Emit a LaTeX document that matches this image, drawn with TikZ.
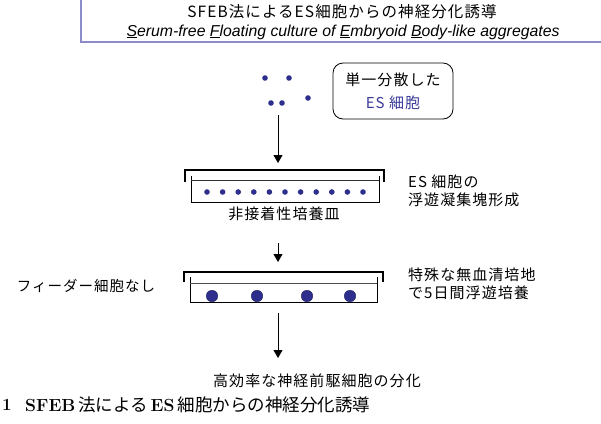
\documentclass[tikz,border=0pt]{standalone}
\usepackage{fontspec}
\newfontfamily\jp[LetterSpace=7]{Noto Sans CJK JP}
\newfontfamily\jpcap{Noto Sans CJK JP}
\newfontfamily\lsans{Liberation Sans}
\usetikzlibrary{arrows.meta}
\definecolor{titleblue}{HTML}{8C8CC8}
\definecolor{celldot}{HTML}{2E2E8C}
\definecolor{esblue}{HTML}{3A3A9A}
\tikzset{
  jptext/.style={inner sep=0pt, font=\jp\fontsize{15}{17}\selectfont, text=black},
  flowarrow/.style={line width=0.8pt, -{Triangle[width=9pt,length=8pt]}},
  dishline/.style={line width=0.9pt, black},
  lidline/.style={line width=1.1pt, black},
  smalldot/.style={circle, fill=celldot, inner sep=0pt, minimum size=5.6pt},
  bigdot/.style={circle, fill=celldot, draw=celldot!70!black, inner sep=0pt, minimum size=11.5pt},
}
\begin{document}
\begin{tikzpicture}[x=1pt,y=-1pt]
\clip (0,0) rectangle (601,423);
\fill[white] (0,0) rectangle (601,423);
% title box
\draw[titleblue, line width=1.4pt] (81,-5) -- (81,42) -- (610,42);
\node[jptext, font=\jp\fontsize{15.5}{17}\selectfont] (title1) at (342,12) {SFEB法によるES細胞からの神経分化誘導};
\node[inner sep=0pt, font=\lsans\itshape\fontsize{15.8}{18}\selectfont] (title2) at (343,32)
  {\underline{S}erum-free \underline{F}loating culture of \underline{E}mbryoid \underline{B}ody-like aggregates};
% single cells
\node[smalldot] (d1) at (265,78) {};
\node[smalldot] (d2) at (289,78) {};
\node[smalldot] (d3) at (271,103) {};
\node[smalldot] (d4) at (282,103) {};
\node[smalldot] (d5) at (308,98) {};
\node[draw, line width=0.8pt, rounded corners=10pt, minimum width=120pt, minimum height=56pt, inner sep=0pt,
      align=center, font=\jp\fontsize{15}{23}\selectfont] (cellbox) at (393,91)
  {単一分散した\\\textcolor{esblue}{ES 細胞}};
% arrow 1
\coordinate (a1s) at (278,115);
\coordinate (a1e) at (278,163);
\draw[flowarrow] (a1s) -- (a1e);
% dish 1
\draw[lidline] (185,182) -- (185,170) -- (384,170) -- (384,182);
\draw[dishline] (191,176) -- (191,202) -- (379,202) -- (379,176);
\draw[line width=0.6pt, black!80] (191,180) -- (379,180);
\foreach \i in {0,...,10} {
  \node[smalldot] (s\i) at ({207+15.6*\i},192) {};
}
\node[jptext] (dish1label) at (284,214) {非接着性培養皿};
\node[jptext, anchor=west, align=left, font=\jp\fontsize{15}{17.5}\selectfont] (rt1) at (408,191) {ES 細胞の\\浮遊凝集塊形成};
% arrow 2
\coordinate (a2s) at (278,243);
\coordinate (a2e) at (278,262);
\draw[flowarrow] (a2s) -- (a2e);
% dish 2
\draw[lidline] (184,282) -- (184,272) -- (383,272) -- (383,282);
\draw[dishline] (190,277) -- (190,302) -- (377,302) -- (377,277);
\draw[line width=0.6pt, black!70] (190,283) -- (377,283);
\node[bigdot] (b1) at (212,296) {};
\node[bigdot] (b2) at (257,296) {};
\node[bigdot] (b3) at (307,296) {};
\node[bigdot] (b4) at (350,296) {};
\node[jptext, font=\jp\fontsize{14.5}{17}\selectfont] (feeder) at (86,286) {フィーダー細胞なし};
\node[jptext, anchor=west, align=left, font=\jp\fontsize{15}{17.5}\selectfont] (rt2) at (408,284) {特殊な無血清培地\\で5日間浮遊培養};
% arrow 3
\coordinate (a3s) at (278,313);
\coordinate (a3e) at (278,358);
\draw[flowarrow] (a3s) -- (a3e);
\node[jptext] (result) at (317,381) {高効率な神経前駆細胞の分化};
% caption
\node[inner sep=0pt, anchor=west, font=\bfseries\fontsize{17}{19}\selectfont] (capnum) at (2,405) {1};
\node[inner sep=0pt, anchor=west, font=\bfseries\fontsize{17.5}{19}\selectfont] (caption) at (25,405)
  {SFEB\,{\jpcap\mdseries 法による}\,ES\,{\jpcap\mdseries 細胞からの神経分化誘導}};
\end{tikzpicture}
\end{document}
